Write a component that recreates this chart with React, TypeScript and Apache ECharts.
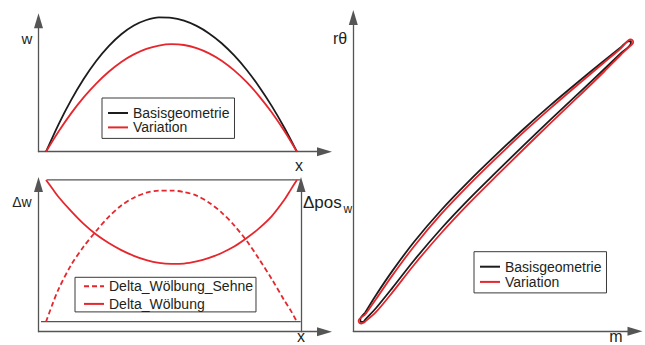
import React, { useEffect, useRef } from 'react';
import * as echarts from 'echarts';

// ---------- top-left: camber lines w(x) ----------
const camberX = [0, 0.05, 0.1, 0.15, 0.2, 0.25, 0.3, 0.35, 0.4, 0.45, 0.5, 0.55, 0.6, 0.65, 0.7, 0.75, 0.8, 0.85, 0.9, 0.95, 1];
const camberBase = [0, 0.204, 0.384, 0.541, 0.675, 0.786, 0.874, 0.939, 0.98, 0.999, 0.996, 0.975, 0.936, 0.88, 0.807, 0.716, 0.608, 0.482, 0.339, 0.178, 0];
const camberVar = [0, 0.15, 0.285, 0.404, 0.507, 0.595, 0.668, 0.724, 0.765, 0.79, 0.8, 0.794, 0.771, 0.732, 0.677, 0.605, 0.517, 0.412, 0.291, 0.154, 0];

// ---------- bottom-left: deltas ----------
const deltaX = [0, 0.025, 0.05, 0.1, 0.15, 0.2, 0.25, 0.3, 0.35, 0.4, 0.45, 0.5, 0.55, 0.6, 0.65, 0.7, 0.75, 0.8, 0.85, 0.9, 0.95, 0.975, 1];
const deltaChord = [0, 0.12, 0.23, 0.4, 0.53, 0.64, 0.74, 0.82, 0.875, 0.91, 0.925, 0.925, 0.915, 0.89, 0.84, 0.77, 0.68, 0.57, 0.44, 0.3, 0.15, 0.08, 0];
const deltaCamber = [1, 0.94, 0.88, 0.78, 0.69, 0.615, 0.555, 0.505, 0.465, 0.435, 0.415, 0.408, 0.41, 0.425, 0.45, 0.485, 0.53, 0.59, 0.66, 0.745, 0.86, 0.93, 1];
const refUpperX = [0.003, 1.015];
const refUpperY = [1, 1];
const refLowerX = [-0.02, 1.015];
const refLowerY = [0, 0];

// ---------- right: blade sections (m, r*theta) ----------
const bladeM = [4.23, 8.09, 13.88, 21.6, 31.24, 40.89, 50.53, 60.18, 69.82, 79.47, 89.11, 94.89];
const baseUpperR = [5.97, 11.57, 19.25, 28.55, 38.66, 47.7, 56.12, 64.24, 71.93, 79.22, 86.3, 90.44];
const baseLowerR = [3.74, 7.43, 13.83, 22.65, 32.76, 41.96, 50.54, 58.98, 67.31, 75.4, 83.59, 88.53];
const varUpperR = [5.33, 10.3, 17.82, 27.12, 37.39, 46.49, 55.0, 63.22, 70.97, 78.42, 85.73, 90.12];
const varLowerR = [3.1, 6.16, 12.4, 21.22, 31.33, 40.61, 49.27, 57.78, 66.21, 74.44, 82.79, 88.05];
// rounded leading / trailing edges, [m, rθ]
const baseLECap = [[3.52, 3.0], [2.55, 2.98], [2.5, 3.88]];
const baseTECap = [[97.59, 92.42], [98.55, 92.45], [98.51, 91.68]];
const varLECap = [[3.52, 2.69], [2.86, 2.43], [2.18, 2.66], [1.88, 3.26], [2.15, 3.88]];
const varTECap = [[97.73, 92.8], [98.38, 93.05], [99.06, 92.81], [99.36, 92.21], [99.09, 91.6]];

const legendNamesBase = ['Basisgeometrie', 'Variation'];
const legendNamesDelta = ['Delta_Wölbung_Sehne', 'Delta_Wölbung'];

const BLACK = '#1c1c1c';
const RED = '#e5272d';
const AXIS = '#555555';
const TEXT = '#231f20';
const FONT = '"Liberation Sans", Arial, Helvetica, sans-serif';

function zip(xs: number[], ys: number[]) {
  return xs.map((x, i) => [x, ys[i]]);
}
function loop(leCap: number[][], teCap: number[][], m: number[], up: number[], lo: number[]) {
  const upper = m.map((x, i) => [x, up[i]]);
  const lower = m.map((x, i) => [x, lo[i]]).reverse();
  return [...upper, ...teCap, ...lower, ...leCap, upper[0]];
}

function axisLineCfg() {
  return {
    show: true,
    onZero: false,
    symbol: ['none', 'triangle'],
    symbolSize: [9, 15],
    lineStyle: { color: AXIS, width: 1.3 },
  };
}
function valueAxis(gridIndex: number, min: number, max: number, extra: any = {}) {
  return {
    type: 'value',
    gridIndex,
    min,
    max,
    axisLine: axisLineCfg(),
    axisTick: { show: false },
    axisLabel: { show: false },
    splitLine: { show: false },
    ...extra,
  };
}
function legendCfg(data: string[], left: number, top: number, padding: number[], itemHeight: number, itemGap: number, lineHeight: number) {
  return {
    data,
    orient: 'vertical',
    left,
    top,
    padding,
    itemWidth: 20,
    itemHeight,
    itemGap,
    selectedMode: false,
    borderColor: '#3a3a3a',
    borderWidth: 1,
    borderRadius: 0,
    itemStyle: { opacity: 0, borderWidth: 0 },
    textStyle: { fontSize: 14, fontFamily: FONT, color: TEXT, lineHeight },
  };
}
function label(text: string, x: number, y: number, size: number, align = 'center') {
  return {
    type: 'text',
    x,
    y,
    style: {
      text,
      fill: TEXT,
      font: `${size}px ${FONT}`,
      align,
      verticalAlign: 'middle',
      textAlign: align,
      textVerticalAlign: 'middle',
    },
  };
}

export default function App() {
  const ref = useRef<HTMLDivElement>(null);
  useEffect(() => {
    if (!ref.current) return;
    const chart = echarts.init(ref.current, undefined, { renderer: 'svg' });
    const option: any = {
      animation: false,
      backgroundColor: '#ffffff',
      grid: [
        { left: 38.5, top: 20.8, width: 286, height: 130.9 },
        { left: 38.5, top: 184.5, width: 286, height: 147.2 },
        { left: 353.3, top: 17.5, width: 281.7, height: 313.8 },
      ],
      xAxis: [
        valueAxis(0, -0.03, 1.11),
        valueAxis(1, -0.03, 1.11),
        valueAxis(2, 0, 100),
      ],
      yAxis: [
        valueAxis(0, 0, 0.974),
        valueAxis(1, -0.0706, 0.968),
        valueAxis(1, -0.0706, 0.968, { position: 'right', offset: -23.5 }),
        valueAxis(2, 0, 100),
      ],
      legend: [
        legendCfg(legendNamesBase, 102, 98, [8, 5, 4, 5], 13, 0.4, 13),
        legendCfg(legendNamesDelta, 75, 277.3, [2, 3, 1, 8], 14, 3.6, 14),
        legendCfg(legendNamesBase, 474, 251.7, [8, 5, 4, 5], 13, 1.2, 13),
      ],
      series: [
        {
          name: 'Basisgeometrie', type: 'line', xAxisIndex: 0, yAxisIndex: 0,
          data: zip(camberX, camberBase), symbol: 'none', smooth: 0.3, clip: false,
          lineStyle: { color: BLACK, width: 1.8 }, itemStyle: { color: BLACK },
        },
        {
          name: 'Variation', type: 'line', xAxisIndex: 0, yAxisIndex: 0,
          data: zip(camberX, camberVar), symbol: 'none', smooth: 0.3, clip: false,
          lineStyle: { color: RED, width: 1.8 }, itemStyle: { color: RED },
        },
        {
          type: 'line', xAxisIndex: 1, yAxisIndex: 1, silent: true,
          data: zip(refUpperX, refUpperY), symbol: 'none', clip: false,
          lineStyle: { color: AXIS, width: 1.3 },
        },
        {
          type: 'line', xAxisIndex: 1, yAxisIndex: 1, silent: true,
          data: zip(refLowerX, refLowerY), symbol: 'none', clip: false,
          lineStyle: { color: AXIS, width: 1.3 },
        },
        {
          name: 'Delta_Wölbung_Sehne', type: 'line', xAxisIndex: 1, yAxisIndex: 1,
          data: zip(deltaX, deltaChord), symbol: 'none', smooth: 0.3, clip: false,
          lineStyle: { color: RED, width: 1.8, type: [5, 3] }, itemStyle: { color: RED },
        },
        {
          name: 'Delta_Wölbung', type: 'line', xAxisIndex: 1, yAxisIndex: 2,
          data: zip(deltaX, deltaCamber), symbol: 'none', smooth: 0.3, clip: false,
          lineStyle: { color: RED, width: 1.8 }, itemStyle: { color: RED },
        },
        {
          name: 'Basisgeometrie', type: 'line', xAxisIndex: 2, yAxisIndex: 3,
          data: loop(baseLECap, baseTECap, bladeM, baseUpperR, baseLowerR), symbol: 'none', smooth: 0.3, clip: false,
          lineStyle: { color: BLACK, width: 1.8, join: 'round' }, itemStyle: { color: BLACK },
        },
        {
          name: 'Variation', type: 'line', xAxisIndex: 2, yAxisIndex: 3,
          data: loop(varLECap, varTECap, bladeM, varUpperR, varLowerR), symbol: 'none', smooth: 0.3, clip: false,
          lineStyle: { color: RED, width: 1.8, join: 'round' }, itemStyle: { color: RED },
        },
      ],
      graphic: [
        label('w', 27, 38, 15),
        label('x', 299, 165, 16),
        label('Δw', 22, 202, 14),
        label('Δpos', 303, 202, 17, 'left'),
        label('w', 343.5, 209, 12, 'left'),
        label('x', 301, 336.5, 16),
        label('rθ', 340, 38, 16),
        label('m', 616, 336.5, 16),
      ],
    };
    chart.setOption(option);
    return () => chart.dispose();
  }, []);
  return <div ref={ref} style={{ position: 'fixed', left: 0, top: 0, width: 645, height: 345 }} />;
}
